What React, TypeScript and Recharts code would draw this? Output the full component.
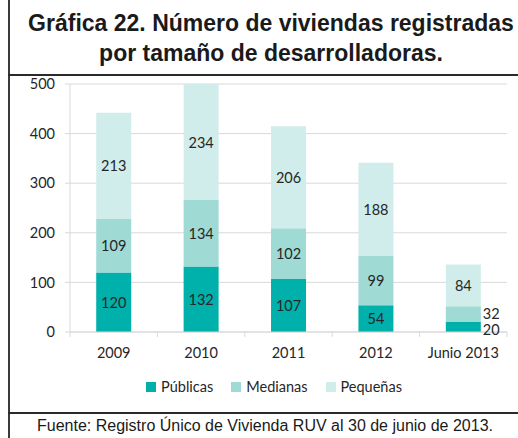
import { Bar, BarChart, CartesianGrid, LabelList, XAxis, YAxis } from 'recharts'

const categories = ['2009', '2010', '2011', '2012', 'Junio 2013']
const publicas = [120, 132, 107, 54, 20]
const medianas = [109, 134, 102, 99, 32]
const pequenas = [213, 234, 206, 188, 84]
const yTicks = [0, 100, 200, 300, 400, 500]

const series = [
  { key: 'publicas', name: 'Públicas', color: '#00b0aa' },
  { key: 'medianas', name: 'Medianas', color: '#9fdad5' },
  { key: 'pequenas', name: 'Pequeñas', color: '#d0edeb' },
]

const data = categories.map((cat, i) => ({
  cat,
  publicas: publicas[i],
  medianas: medianas[i],
  pequenas: pequenas[i],
}))

const FONT = 'Lato, "Open Sans", sans-serif'
const INK = '#262626'
const GRID = '#d9d9d9'
const PLOT_W = 437

function SegmentLabel(props: any) {
  const { x, y, width, height, value } = props
  // small segments get the label outside, to the right of the bar
  const outside = height < 20
  const nudge = outside ? (height < 12 ? 2 : -1) : 0
  return (
    <text
      x={outside ? x + width + 2 : x + width / 2}
      y={y + height / 2 + nudge}
      textAnchor={outside ? 'start' : 'middle'}
      dominantBaseline="central"
      fontFamily={FONT}
      fontSize={14.5}
      fill={INK}
    >
      {value}
    </text>
  )
}

function CatTick(props: any) {
  const { x, y, payload, index } = props
  const band = PLOT_W / categories.length
  return (
    <g>
      <line x1={x - band / 2} x2={x - band / 2} y1={y} y2={y + 5} stroke={GRID} />
      {index === categories.length - 1 && (
        <line x1={x + band / 2} x2={x + band / 2} y1={y} y2={y + 5} stroke={GRID} />
      )}
      <text x={x} y={y + 26} textAnchor="middle" fontFamily={FONT} fontSize={14.5} fill={INK}>
        {payload.value}
      </text>
    </g>
  )
}

export default function App() {
  return (
    <div
      style={{
        position: 'absolute',
        left: 0,
        top: 0,
        width: 518,
        height: 438,
        background: '#fff',
        overflow: 'hidden',
      }}
    >
      {/* frame lines */}
      <div style={{ position: 'absolute', left: 8, top: 0, width: 2, height: 438, background: '#3a3a3a' }} />
      <div style={{ position: 'absolute', left: 8, top: 74, width: 510, height: 2, background: '#2a2a2a' }} />
      <div style={{ position: 'absolute', left: 8, top: 412, width: 510, height: 2, background: '#2a2a2a' }} />

      <div
        style={{
          position: 'absolute',
          left: 12,
          top: 8,
          width: 518,
          textAlign: 'center',
          fontFamily: '"Liberation Sans", Arial, sans-serif',
          fontWeight: 'bold',
          fontSize: 23,
          lineHeight: '30px',
          color: '#1a1a1a',
          whiteSpace: 'nowrap',
        }}
      >
        Gráfica 22. Número de viviendas registradas
        <br />
        por tamaño de desarrolladoras.
      </div>

      <div style={{ position: 'absolute', left: 0, top: 75 }}>
        <BarChart
          width={518}
          height={338}
          data={data}
          margin={{ top: 9, right: 11, left: 0, bottom: 0 }}
          barCategoryGap="30%"
        >
          <CartesianGrid vertical={false} stroke={GRID} />
          <XAxis
            dataKey="cat"
            height={81}
            axisLine={{ stroke: GRID }}
            tickLine={false}
            tickSize={0}
            tickMargin={0}
            interval={0}
            tick={<CatTick />}
          />
          <YAxis
            width={70}
            domain={[0, 500]}
            ticks={yTicks}
            axisLine={{ stroke: GRID }}
            tickLine={{ stroke: GRID }}
            tickSize={5}
            tickMargin={10}
            tick={{ fontFamily: FONT, fontSize: 14.5, fill: INK }}
          />
          {series.map((s) => (
            <Bar key={s.key} dataKey={s.key} name={s.name} stackId="a" fill={s.color} isAnimationActive={false}>
              <LabelList dataKey={s.key} content={<SegmentLabel />} />
            </Bar>
          ))}
        </BarChart>
      </div>

      {/* legend */}
      <div
        style={{
          position: 'absolute',
          left: 0,
          top: 378,
          width: 548,
          display: 'flex',
          justifyContent: 'center',
          gap: 18,
          fontFamily: FONT,
          fontSize: 14.5,
          color: INK,
        }}
      >
        {series.map((s) => (
          <div key={s.key} style={{ display: 'flex', alignItems: 'center', gap: 5 }}>
            <span style={{ display: 'inline-block', width: 10, height: 10, background: s.color }} />
            <span>{s.name}</span>
          </div>
        ))}
      </div>

      <div
        style={{
          position: 'absolute',
          left: 10,
          top: 417,
          width: 510,
          textAlign: 'center',
          fontFamily: '"Liberation Sans", Arial, sans-serif',
          fontSize: 16,
          color: '#1a1a1a',
        }}
      >
        Fuente: Registro Único de Vivienda RUV al 30 de junio de 2013.
      </div>
    </div>
  )
}
